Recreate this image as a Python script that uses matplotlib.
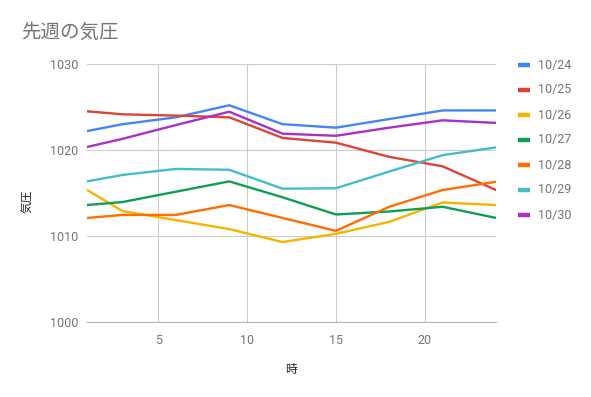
import matplotlib
matplotlib.use("Agg")
import matplotlib.pyplot as plt
from matplotlib.lines import Line2D

plt.rcParams['font.family'] = ['Roboto', 'Noto Sans CJK JP', 'DejaVu Sans']

hours = [1, 3, 6, 9, 12, 15, 18, 21, 24]
dates = ["10/24", "10/25", "10/26", "10/27", "10/28", "10/29", "10/30"]
p_1024 = [1022.2, 1023.0, 1023.8, 1025.2, 1023.0, 1022.6, 1023.6, 1024.6, 1024.6]
p_1025 = [1024.5, 1024.15, 1024.0, 1023.8, 1021.4, 1020.85, 1019.2, 1018.1, 1015.35]
p_1026 = [1015.35, 1012.9, 1011.85, 1010.8, 1009.3, 1010.25, 1011.65, 1013.9, 1013.6]
p_1027 = [1013.6, 1013.95, 1015.15, 1016.35, 1014.5, 1012.5, 1012.85, 1013.4, 1012.1]
p_1028 = [1012.1, 1012.45, 1012.45, 1013.6, 1012.1, 1010.6, 1013.4, 1015.35, 1016.3]
p_1029 = [1016.35, 1017.1, 1017.8, 1017.7, 1015.5, 1015.55, 1017.5, 1019.4, 1020.3]
p_1030 = [1020.35, 1021.3, 1022.9, 1024.45, 1021.9, 1021.65, 1022.6, 1023.45, 1023.15]
series = [p_1024, p_1025, p_1026, p_1027, p_1028, p_1029, p_1030]
colors = ["#4285F4", "#DB4437", "#F4B400", "#0F9D58", "#FF6D00", "#46BDC6", "#AB30C4"]

x_ticks = [5, 10, 15, 20]
y_ticks = [1000, 1010, 1020, 1030]

W, H = 591, 397
fig = plt.figure(figsize=(W / 100, H / 100), dpi=100)
L, R, T, B = 87, 496, 64, 322
ax = fig.add_axes([L / W, (H - B) / H, (R - L) / W, (B - T) / H])

for vals, c in zip(series, colors):
    ax.plot(hours, vals, color=c, lw=1.7, solid_joinstyle='round', zorder=3)

ax.set_xlim(1, 24)
ax.set_ylim(1000, 1030)
ax.set_xticks(x_ticks)
ax.set_yticks(y_ticks)
ax.grid(True, color="#cccccc", lw=0.8, zorder=0)
for s in ["top", "right", "left"]:
    ax.spines[s].set_visible(False)
ax.spines["bottom"].set_color("#bbbbbb")
ax.spines["bottom"].set_linewidth(0.9)
ax.tick_params(axis='both', length=0, colors="#757575", labelsize=9)
ax.tick_params(axis='x', pad=9)
ax.tick_params(axis='y', pad=6)

def px(x, y):
    return x / W, 1 - y / H

fig.text(*px(21, 33), "先週の気圧", fontsize=14, color="#757575", va='center', ha='left')
fig.text(*px(291, 370), "時", fontsize=8.5, color="#222222", va='center', ha='center')
fig.text(*px(28, 201), "気圧", fontsize=8.5, color="#222222", va='center', ha='center', rotation=90)

for i, (d, c) in enumerate(zip(dates, colors)):
    yy = 65 + 25 * i
    fig.add_artist(Line2D([518 / W, 530 / W], [1 - yy / H, 1 - yy / H], color=c, lw=3.2,
                          solid_capstyle='butt'))
    fig.text(*px(538, yy), d, fontsize=9, color="#757575", va='center', ha='left')

fig.savefig("out.png", dpi=100)
